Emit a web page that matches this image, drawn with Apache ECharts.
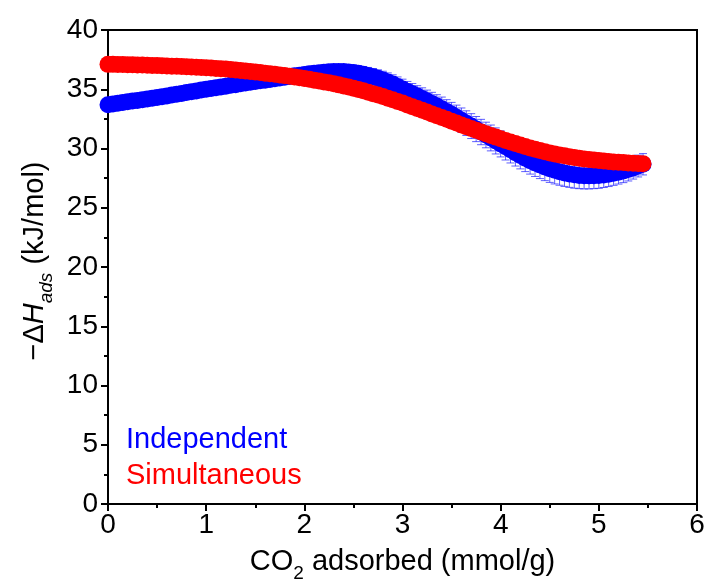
<!DOCTYPE html>
<html>
<head>
<meta charset="utf-8">
<script src="https://cdn.jsdelivr.net/npm/echarts@6/dist/echarts.min.js"></script>
<style>
  html, body { margin: 0; padding: 0; background: #fff; }
  #chart { width: 706px; height: 584px; }
</style>
</head>
<body>
<div id="chart"></div>
<script>
// CO2 loading (mmol/g)
const loading = [
  0.00, 0.05, 0.10, 0.15, 0.20, 0.25, 0.30, 0.35, 0.40, 0.45,
  0.50, 0.55, 0.60, 0.65, 0.70, 0.75, 0.80, 0.85, 0.90, 0.95,
  1.00, 1.05, 1.10, 1.15, 1.20, 1.25, 1.30, 1.35, 1.40, 1.45,
  1.50, 1.55, 1.60, 1.65, 1.70, 1.75, 1.80, 1.85, 1.90, 1.95,
  2.00, 2.05, 2.10, 2.15, 2.20, 2.25, 2.30, 2.35, 2.40, 2.45,
  2.50, 2.55, 2.60, 2.65, 2.70, 2.75, 2.80, 2.85, 2.90, 2.95,
  3.00, 3.05, 3.10, 3.15, 3.20, 3.25, 3.30, 3.35, 3.40, 3.45,
  3.50, 3.55, 3.60, 3.65, 3.70, 3.75, 3.80, 3.85, 3.90, 3.95,
  4.00, 4.05, 4.10, 4.15, 4.20, 4.25, 4.30, 4.35, 4.40, 4.45,
  4.50, 4.55, 4.60, 4.65, 4.70, 4.75, 4.80, 4.85, 4.90, 4.95,
  5.00, 5.05, 5.10, 5.15, 5.20, 5.25, 5.30, 5.35, 5.40, 5.45
]

// -dH ads, independent fit (kJ/mol)
const independent = [
  33.70, 33.76, 33.82, 33.88, 33.94, 34.00, 34.06, 34.12, 34.18, 34.24,
  34.30, 34.37, 34.44, 34.51, 34.58, 34.65, 34.72, 34.79, 34.86, 34.93,
  35.00, 35.07, 35.13, 35.20, 35.26, 35.33, 35.39, 35.46, 35.52, 35.59,
  35.65, 35.71, 35.77, 35.83, 35.89, 35.95, 36.01, 36.07, 36.13, 36.19,
  36.25, 36.30, 36.35, 36.40, 36.44, 36.47, 36.49, 36.50, 36.49, 36.46,
  36.41, 36.34, 36.26, 36.16, 36.05, 35.92, 35.78, 35.62, 35.44, 35.24,
  35.03, 34.82, 34.62, 34.42, 34.22, 34.01, 33.80, 33.58, 33.36, 33.12,
  32.88, 32.64, 32.39, 32.14, 31.89, 31.64, 31.39, 31.14, 30.89, 30.64,
  30.39, 30.14, 29.89, 29.64, 29.40, 29.18, 28.97, 28.78, 28.60, 28.44,
  28.29, 28.16, 28.04, 27.94, 27.85, 27.78, 27.73, 27.70, 27.69, 27.70,
  27.72, 27.77, 27.83, 27.91, 28.00, 28.10, 28.22, 28.36, 28.52, 28.67
]

// error of the independent fit
const independentErr = [
  0.30, 0.30, 0.31, 0.31, 0.32, 0.32, 0.33, 0.33, 0.34, 0.34,
  0.35, 0.35, 0.36, 0.36, 0.37, 0.37, 0.38, 0.38, 0.39, 0.39,
  0.40, 0.40, 0.41, 0.41, 0.42, 0.42, 0.43, 0.43, 0.44, 0.44,
  0.45, 0.45, 0.46, 0.46, 0.47, 0.47, 0.48, 0.48, 0.49, 0.49,
  0.50, 0.51, 0.52, 0.53, 0.54, 0.55, 0.56, 0.57, 0.58, 0.60,
  0.62, 0.64, 0.66, 0.68, 0.70, 0.72, 0.74, 0.76, 0.78, 0.80,
  0.82, 0.84, 0.86, 0.88, 0.90, 0.92, 0.94, 0.96, 0.98, 1.00,
  1.01, 1.02, 1.03, 1.04, 1.05, 1.06, 1.07, 1.08, 1.09, 1.10,
  1.10, 1.11, 1.11, 1.12, 1.12, 1.13, 1.13, 1.14, 1.14, 1.15,
  1.15, 1.15, 1.14, 1.14, 1.13, 1.13, 1.12, 1.11, 1.10, 1.09,
  1.08, 1.06, 1.04, 1.02, 1.00, 0.98, 0.96, 0.94, 0.92, 0.90
]

// -dH ads, simultaneous fit (kJ/mol)
const simultaneous = [
  37.10, 37.10, 37.09, 37.08, 37.07, 37.06, 37.05, 37.04, 37.03, 37.01,
  37.00, 36.98, 36.97, 36.95, 36.94, 36.92, 36.90, 36.88, 36.86, 36.84,
  36.82, 36.79, 36.76, 36.73, 36.70, 36.66, 36.62, 36.58, 36.54, 36.50,
  36.46, 36.41, 36.36, 36.31, 36.26, 36.21, 36.15, 36.09, 36.03, 35.97,
  35.91, 35.84, 35.77, 35.70, 35.62, 35.54, 35.46, 35.37, 35.28, 35.19,
  35.09, 34.98, 34.87, 34.75, 34.63, 34.51, 34.38, 34.25, 34.11, 33.97,
  33.83, 33.68, 33.53, 33.38, 33.23, 33.08, 32.92, 32.77, 32.61, 32.46,
  32.30, 32.15, 31.99, 31.84, 31.69, 31.54, 31.39, 31.24, 31.10, 30.96,
  30.82, 30.68, 30.55, 30.42, 30.29, 30.17, 30.05, 29.94, 29.83, 29.73,
  29.63, 29.54, 29.46, 29.38, 29.31, 29.24, 29.18, 29.12, 29.07, 29.02,
  28.98, 28.94, 28.90, 28.87, 28.84, 28.81, 28.78, 28.76, 28.74, 28.72
]

const fontFamily = 'Liberation Sans, Arial, sans-serif'
const axisCommon = {
  axisLine: { lineStyle: { color: '#000', width: 2 } },
  axisTick: { inside: false, length: 7, lineStyle: { color: '#000', width: 2 } },
  minorTick: { show: true, splitNumber: 2, length: 4, lineStyle: { color: '#000', width: 2 } },
  splitLine: { show: false }
}

function renderErrorBar (params, api) {
  const x = api.value(0)
  const lo = api.coord([x, api.value(1)])
  const hi = api.coord([x, api.value(2)])
  const w = 4
  const style = { stroke: '#1a1aff', lineWidth: 1, opacity: 0.7 }
  return {
    type: 'group',
    children: [
      { type: 'line', shape: { x1: lo[0], y1: lo[1], x2: hi[0], y2: hi[1] }, style },
      { type: 'line', shape: { x1: lo[0] - w, y1: lo[1], x2: lo[0] + w, y2: lo[1] }, style },
      { type: 'line', shape: { x1: hi[0] - w, y1: hi[1], x2: hi[0] + w, y2: hi[1] }, style }
    ]
  }
}

const chart = echarts.init(document.getElementById('chart'))
chart.setOption({
  animation: false,
  textStyle: { fontFamily: fontFamily },
  grid: {
    left: 108, right: 9, top: 30, bottom: 80,
    outerBoundsMode: 'none',
    containLabel: false,
    show: true, borderColor: '#000', borderWidth: 2
  },
  xAxis: {
    ...axisCommon,
    type: 'value', min: 0, max: 6, interval: 1,
    axisLabel: { color: '#000', fontSize: 28, margin: 7, fontFamily: fontFamily },
    name: 'CO{sub|2} adsorbed (mmol/g)',
    nameLocation: 'middle',
    nameGap: 42,
    nameTextStyle: {
      color: '#000', fontSize: 29, fontFamily: fontFamily, lineHeight: 32,
      rich: {
        sub: { fontSize: 19, fontFamily: fontFamily, verticalAlign: 'bottom', lineHeight: 19, padding: [0, 0, -5, 0] }
      }
    }
  },
  yAxis: {
    ...axisCommon,
    type: 'value', min: 0, max: 40, interval: 5,
    axisLabel: { color: '#000', fontSize: 28, margin: 10, fontFamily: fontFamily },
    name: '\u2212\u0394{i|H}{sub|ads} (kJ/mol)',
    nameLocation: 'middle',
    nameGap: 52,
    nameTextStyle: {
      color: '#000', fontSize: 29, fontFamily: fontFamily, lineHeight: 32,
      padding: [0, 0, 0, 12],
      rich: {
        i: { fontSize: 29, fontStyle: 'italic', fontFamily: fontFamily },
        sub: { fontSize: 19, fontStyle: 'italic', fontFamily: fontFamily, verticalAlign: 'bottom', lineHeight: 19, padding: [0, 0, -5, 0] }
      }
    }
  },
  graphic: [
    { type: 'text', left: 126, top: 425, style: { text: 'Independent', fill: '#0000ff', font: '29px ' + fontFamily } },
    { type: 'text', left: 126, top: 461, style: { text: 'Simultaneous', fill: '#ff0000', font: '29px ' + fontFamily } }
  ],
  series: [
    {
      name: 'Independent error',
      type: 'custom',
      renderItem: renderErrorBar,
      encode: { x: 0, y: [1, 2] },
      z: 1,
      data: loading.map((x, i) => [x, independent[i] - independentErr[i], independent[i] + independentErr[i]])
    },
    {
      name: 'Independent',
      type: 'scatter',
      symbol: 'circle',
      symbolSize: 17,
      itemStyle: { color: '#0000ff', opacity: 1 },
      z: 2,
      data: loading.map((x, i) => [x, independent[i]])
    },
    {
      name: 'Simultaneous',
      type: 'scatter',
      symbol: 'circle',
      symbolSize: 17,
      itemStyle: { color: '#ff0000', opacity: 1 },
      z: 3,
      data: loading.map((x, i) => [x, simultaneous[i]])
    }
  ]
})
</script>
</body>
</html>
